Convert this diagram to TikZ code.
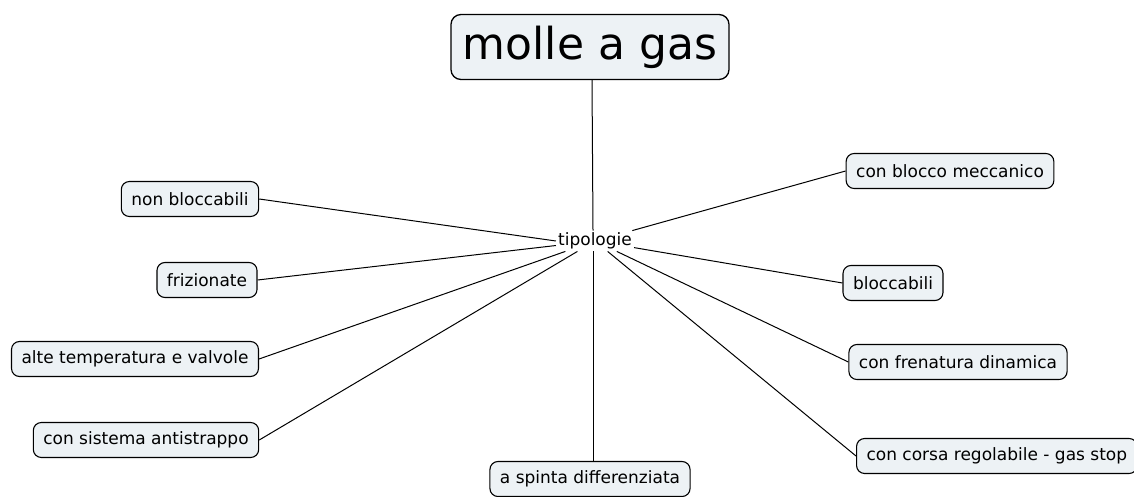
\documentclass[tikz,border=0pt]{standalone}
\usepackage{fontspec}
\setmainfont{DejaVu Sans}
\definecolor{boxfill}{HTML}{EDF2F5}
\begin{document}
\begin{tikzpicture}[x=1pt,y=-1pt,
  topic/.style={draw=black,line width=1.1pt,fill=boxfill,rounded corners=8pt,
    inner xsep=10pt,minimum height=35pt,font=\fontsize{17}{20}\selectfont},
  root/.style={draw=black,line width=1.3pt,fill=boxfill,rounded corners=10pt,
    inner xsep=12pt,minimum height=65pt,font=\fontsize{44}{50}\selectfont},
  link/.style={draw=black,line width=1pt}]
\useasboundingbox (0,0) rectangle (1134,497);
\clip (0,0) rectangle (1134,497);
\node[root] (root) at (590,47) {molle a gas};
\node[inner sep=2pt,font=\fontsize{17}{20}\selectfont] (tip) at (595,241) {tipologie};
\node[topic] (nb) at (190,199) {non bloccabili};
\node[topic] (fr) at (207,280) {frizionate};
\node[topic] (at) at (135,359) {alte temperatura e valvole};
\node[topic] (cs) at (146,440) {con sistema antistrappo};
\node[topic] (as) at (590,479) {a spinta differenziata};
\node[topic] (cb) at (950,171) {con blocco meccanico};
\node[topic] (bl) at (893,283) {bloccabili};
\node[topic] (cf) at (958,362) {con frenatura dinamica};
\node[topic,anchor=west] (cc) at (856,456) {con corsa regolabile - gas stop};
\draw[link] (root.south -| 592,0) -- (tip.north -| 593,0);
\draw[link] (nb.east) -- (tip.west);
\draw[link] (fr.east) -- (tip);
\draw[link] (at.east) -- (tip);
\draw[link] (cs.east) -- (tip);
\draw[link] (as.north -| 593,0) -- (tip.south -| 593,0);
\draw[link] (cb.west) -- (tip);
\draw[link] (bl.west) -- (tip);
\draw[link] (cf.west) -- (tip);
\draw[link] (cc.west) -- (tip);
\end{tikzpicture}
\end{document}
